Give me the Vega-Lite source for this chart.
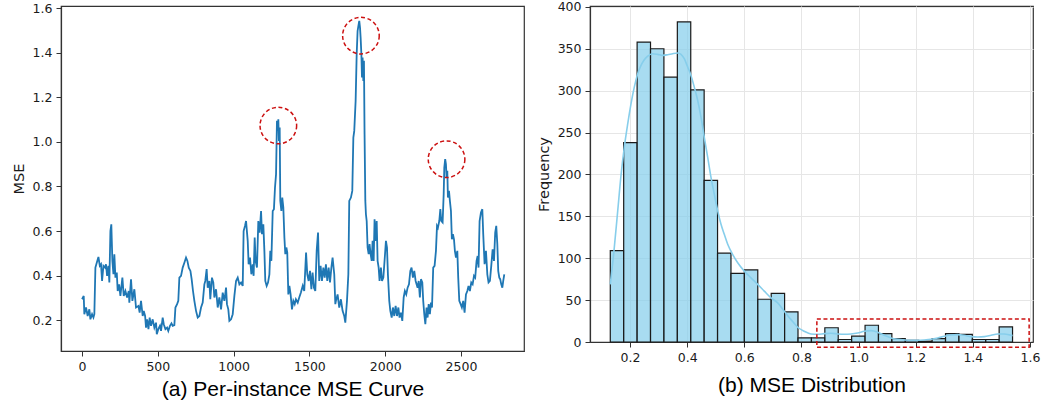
{
  "$schema": "https://vega.github.io/schema/vega-lite/v6.json",
  "padding": {"left": 11, "top": 0, "right": 0, "bottom": 0},
  "bounds": "flush",
  "spacing": 66,
  "config": {
    "view": {"stroke": "#333333", "strokeWidth": 1.2},
    "axis": {
      "labelFont": "DejaVu Sans", "labelFontSize": 12.5, "labelColor": "#1a1a1a",
      "titleFont": "DejaVu Sans", "titleFontSize": 14.5, "titleFontWeight": "normal", "titleColor": "#1a1a1a",
      "domainColor": "#333333", "domainWidth": 1.2, "tickColor": "#333333", "tickSize": 5, "tickWidth": 1,
      "labelPadding": 4, "grid": false
    }
  },
  "datasets": {
    "line": [
      {"instance":0,"mse":0.294},{"instance":11,"mse":0.309},{"instance":15,"mse":0.227},{"instance":26,"mse":0.257},{"instance":37,"mse":0.219},{"instance":48,"mse":0.249},{"instance":55,"mse":0.204},{"instance":66,"mse":0.227},{"instance":75,"mse":0.212},{"instance":81,"mse":0.227},
      {"instance":88,"mse":0.436},{"instance":97,"mse":0.458},{"instance":108,"mse":0.484},{"instance":117,"mse":0.444},{"instance":125,"mse":0.451},{"instance":132,"mse":0.376},{"instance":141,"mse":0.444},{"instance":152,"mse":0.436},{"instance":158,"mse":0.451},{"instance":165,"mse":0.399},
      {"instance":174,"mse":0.444},{"instance":180,"mse":0.369},{"instance":187,"mse":0.600},{"instance":193,"mse":0.630},{"instance":200,"mse":0.466},{"instance":207,"mse":0.406},{"instance":213,"mse":0.496},{"instance":220,"mse":0.391},{"instance":229,"mse":0.414},{"instance":235,"mse":0.331},
      {"instance":244,"mse":0.361},{"instance":253,"mse":0.309},{"instance":266,"mse":0.391},{"instance":275,"mse":0.309},{"instance":286,"mse":0.331},{"instance":297,"mse":0.302},{"instance":308,"mse":0.331},{"instance":312,"mse":0.279},{"instance":323,"mse":0.384},{"instance":332,"mse":0.287},
      {"instance":345,"mse":0.339},{"instance":356,"mse":0.257},{"instance":372,"mse":0.264},{"instance":380,"mse":0.234},{"instance":389,"mse":0.287},{"instance":400,"mse":0.219},{"instance":407,"mse":0.242},{"instance":416,"mse":0.219},{"instance":422,"mse":0.167},{"instance":429,"mse":0.204},
      {"instance":438,"mse":0.160},{"instance":446,"mse":0.212},{"instance":455,"mse":0.175},{"instance":466,"mse":0.204},{"instance":477,"mse":0.167},{"instance":488,"mse":0.189},{"instance":493,"mse":0.137},{"instance":503,"mse":0.160},{"instance":514,"mse":0.175},{"instance":521,"mse":0.152},
      {"instance":532,"mse":0.212},{"instance":539,"mse":0.182},{"instance":550,"mse":0.160},{"instance":561,"mse":0.167},{"instance":569,"mse":0.152},{"instance":580,"mse":0.175},{"instance":590,"mse":0.186},{"instance":598,"mse":0.175},{"instance":609,"mse":0.178},{"instance":616,"mse":0.257},
      {"instance":627,"mse":0.272},{"instance":635,"mse":0.287},{"instance":642,"mse":0.391},{"instance":653,"mse":0.399},{"instance":664,"mse":0.436},{"instance":675,"mse":0.458},{"instance":686,"mse":0.481},{"instance":695,"mse":0.466},{"instance":704,"mse":0.436},{"instance":715,"mse":0.421},
      {"instance":723,"mse":0.384},{"instance":732,"mse":0.331},{"instance":741,"mse":0.287},{"instance":752,"mse":0.242},{"instance":763,"mse":0.212},{"instance":774,"mse":0.219},{"instance":785,"mse":0.257},{"instance":796,"mse":0.279},{"instance":807,"mse":0.361},{"instance":813,"mse":0.376},
      {"instance":822,"mse":0.429},{"instance":829,"mse":0.346},{"instance":840,"mse":0.376},{"instance":846,"mse":0.294},{"instance":857,"mse":0.391},{"instance":866,"mse":0.369},{"instance":873,"mse":0.302},{"instance":884,"mse":0.339},{"instance":895,"mse":0.257},{"instance":906,"mse":0.302},
      {"instance":917,"mse":0.249},{"instance":928,"mse":0.324},{"instance":939,"mse":0.287},{"instance":950,"mse":0.346},{"instance":956,"mse":0.272},{"instance":965,"mse":0.249},{"instance":972,"mse":0.197},{"instance":983,"mse":0.204},{"instance":994,"mse":0.227},{"instance":1005,"mse":0.309},
      {"instance":1016,"mse":0.376},{"instance":1027,"mse":0.391},{"instance":1038,"mse":0.361},{"instance":1049,"mse":0.369},{"instance":1060,"mse":0.354},{"instance":1066,"mse":0.600},{"instance":1075,"mse":0.623},
      {"instance":1082,"mse":0.645},{"instance":1093,"mse":0.556},{"instance":1099,"mse":0.451},{"instance":1108,"mse":0.481},{"instance":1117,"mse":0.406},{"instance":1126,"mse":0.451},{"instance":1132,"mse":0.399},{"instance":1139,"mse":0.571},{"instance":1145,"mse":0.466},{"instance":1154,"mse":0.436},
      {"instance":1163,"mse":0.645},{"instance":1172,"mse":0.593},{"instance":1181,"mse":0.690},{"instance":1187,"mse":0.586},{"instance":1196,"mse":0.630},{"instance":1203,"mse":0.511},{"instance":1209,"mse":0.376},{"instance":1218,"mse":0.354},{"instance":1227,"mse":0.369},{"instance":1236,"mse":0.406},
      {"instance":1242,"mse":0.511},{"instance":1249,"mse":0.466},{"instance":1258,"mse":0.690},{"instance":1266,"mse":0.698},{"instance":1273,"mse":0.795},{"instance":1280,"mse":0.855},{"instance":1286,"mse":1.094},{"instance":1291,"mse":1.049},{"instance":1295,"mse":1.101},{"instance":1299,"mse":1.004},
      {"instance":1304,"mse":1.064},{"instance":1308,"mse":0.735},{"instance":1315,"mse":0.690},{"instance":1321,"mse":0.750},{"instance":1328,"mse":0.705},{"instance":1335,"mse":0.571},{"instance":1341,"mse":0.496},{"instance":1348,"mse":0.526},{"instance":1354,"mse":0.503},{"instance":1361,"mse":0.316},
      {"instance":1368,"mse":0.354},{"instance":1376,"mse":0.316},{"instance":1385,"mse":0.249},{"instance":1394,"mse":0.287},{"instance":1403,"mse":0.272},{"instance":1411,"mse":0.294},{"instance":1423,"mse":0.279},{"instance":1433,"mse":0.302},{"instance":1444,"mse":0.324},{"instance":1456,"mse":0.354},
      {"instance":1466,"mse":0.331},{"instance":1478,"mse":0.503},{"instance":1486,"mse":0.406},{"instance":1495,"mse":0.376},{"instance":1504,"mse":0.421},{"instance":1513,"mse":0.339},{"instance":1521,"mse":0.414},{"instance":1530,"mse":0.346},{"instance":1539,"mse":0.331},{"instance":1548,"mse":0.511},
      {"instance":1557,"mse":0.593},{"instance":1565,"mse":0.376},{"instance":1574,"mse":0.444},{"instance":1583,"mse":0.376},{"instance":1592,"mse":0.436},{"instance":1601,"mse":0.391},{"instance":1609,"mse":0.451},{"instance":1618,"mse":0.376},{"instance":1627,"mse":0.436},{"instance":1636,"mse":0.369},
      {"instance":1645,"mse":0.436},{"instance":1653,"mse":0.481},{"instance":1664,"mse":0.406},{"instance":1671,"mse":0.272},
      {"instance":1675,"mse":0.287},{"instance":1686,"mse":0.316},{"instance":1697,"mse":0.257},{"instance":1708,"mse":0.294},{"instance":1719,"mse":0.242},{"instance":1730,"mse":0.219},{"instance":1737,"mse":0.189},{"instance":1748,"mse":0.287},{"instance":1757,"mse":0.406},{"instance":1763,"mse":0.735},
      {"instance":1774,"mse":0.750},{"instance":1783,"mse":0.780},{"instance":1790,"mse":1.019},{"instance":1796,"mse":1.049},{"instance":1805,"mse":1.183},{"instance":1812,"mse":1.393},{"instance":1818,"mse":1.497},{"instance":1825,"mse":1.527},{"instance":1829,"mse":1.542},{"instance":1834,"mse":1.512},
      {"instance":1838,"mse":1.467},{"instance":1843,"mse":1.393},{"instance":1847,"mse":1.288},{"instance":1851,"mse":1.378},{"instance":1856,"mse":1.273},{"instance":1860,"mse":1.363},{"instance":1864,"mse":1.034},{"instance":1869,"mse":0.735},{"instance":1873,"mse":0.675},{"instance":1878,"mse":0.645},
      {"instance":1884,"mse":0.526},{"instance":1891,"mse":0.496},{"instance":1897,"mse":0.541},{"instance":1904,"mse":0.496},{"instance":1911,"mse":0.466},{"instance":1917,"mse":0.556},{"instance":1924,"mse":0.466},{"instance":1930,"mse":0.653},{"instance":1937,"mse":0.556},{"instance":1944,"mse":0.645},
      {"instance":1950,"mse":0.466},{"instance":1957,"mse":0.436},{"instance":1963,"mse":0.376},{"instance":1972,"mse":0.436},{"instance":1979,"mse":0.376},{"instance":1988,"mse":0.391},{"instance":1999,"mse":0.496},{"instance":2005,"mse":0.556},{"instance":2012,"mse":0.526},{"instance":2018,"mse":0.406},
      {"instance":2027,"mse":0.287},{"instance":2034,"mse":0.242},{"instance":2043,"mse":0.212},{"instance":2051,"mse":0.257},{"instance":2060,"mse":0.219},{"instance":2069,"mse":0.264},{"instance":2078,"mse":0.219},{"instance":2087,"mse":0.257},{"instance":2095,"mse":0.212},{"instance":2104,"mse":0.234},
      {"instance":2113,"mse":0.197},{"instance":2122,"mse":0.302},{"instance":2130,"mse":0.331},{"instance":2139,"mse":0.316},{"instance":2148,"mse":0.346},{"instance":2157,"mse":0.361},{"instance":2166,"mse":0.421},{"instance":2174,"mse":0.436},{"instance":2183,"mse":0.391},{"instance":2192,"mse":0.421},
      {"instance":2201,"mse":0.376},{"instance":2214,"mse":0.346},{"instance":2221,"mse":0.376},{"instance":2229,"mse":0.302},{"instance":2236,"mse":0.384},{"instance":2245,"mse":0.369},{"instance":2251,"mse":0.287},{"instance":2258,"mse":0.227},{"instance":2265,"mse":0.182},{"instance":2273,"mse":0.257},
      {"instance":2280,"mse":0.212},{"instance":2287,"mse":0.272},{"instance":2295,"mse":0.227},{"instance":2302,"mse":0.279},{"instance":2309,"mse":0.257},{"instance":2317,"mse":0.436},{"instance":2326,"mse":0.444},{"instance":2335,"mse":0.511},{"instance":2342,"mse":0.623},{"instance":2348,"mse":0.615},
      {"instance":2357,"mse":0.645},{"instance":2364,"mse":0.698},{"instance":2370,"mse":0.645},{"instance":2379,"mse":0.638},{"instance":2386,"mse":0.765},{"instance":2390,"mse":0.884},{"instance":2396,"mse":0.922},{"instance":2401,"mse":0.899},{"instance":2405,"mse":0.840},{"instance":2410,"mse":0.870},
      {"instance":2414,"mse":0.750},{"instance":2421,"mse":0.780},{"instance":2427,"mse":0.735},{"instance":2434,"mse":0.690},{"instance":2440,"mse":0.563},{"instance":2447,"mse":0.586},{"instance":2454,"mse":0.563},{"instance":2460,"mse":0.511},{"instance":2467,"mse":0.481},{"instance":2476,"mse":0.511},
      {"instance":2482,"mse":0.391},{"instance":2489,"mse":0.287},{"instance":2498,"mse":0.272},{"instance":2506,"mse":0.257},{"instance":2515,"mse":0.287},{"instance":2524,"mse":0.234},{"instance":2533,"mse":0.316},{"instance":2542,"mse":0.331},{"instance":2550,"mse":0.354},{"instance":2559,"mse":0.331},
      {"instance":2568,"mse":0.369},{"instance":2577,"mse":0.361},{"instance":2586,"mse":0.399},{"instance":2594,"mse":0.391},{"instance":2603,"mse":0.466},{"instance":2610,"mse":0.488},{"instance":2616,"mse":0.436},{"instance":2623,"mse":0.645},{"instance":2632,"mse":0.683},{"instance":2641,"mse":0.698},
      {"instance":2647,"mse":0.586},{"instance":2656,"mse":0.451},{"instance":2665,"mse":0.511},{"instance":2674,"mse":0.406},{"instance":2682,"mse":0.369},{"instance":2691,"mse":0.376},{"instance":2700,"mse":0.444},{"instance":2709,"mse":0.518},{"instance":2718,"mse":0.466},{"instance":2726,"mse":0.593},
      {"instance":2733,"mse":0.623},{"instance":2740,"mse":0.541},{"instance":2746,"mse":0.421},{"instance":2753,"mse":0.391},{"instance":2759,"mse":0.384},{"instance":2766,"mse":0.361},{"instance":2773,"mse":0.346},{"instance":2779,"mse":0.376},{"instance":2786,"mse":0.406}
    ],
    "peaks": [
      {"instance":1295,"mse":1.073},{"instance":1840,"mse":1.476},{"instance":2405,"mse":0.922}
    ],
    "hist": [
      {"bin_start":0.1310,"bin_end":0.1779,"count":109},{"bin_start":0.1779,"bin_end":0.2249,"count":238},{"bin_start":0.2249,"bin_end":0.2718,"count":358},{"bin_start":0.2718,"bin_end":0.3187,"count":350},{"bin_start":0.3187,"bin_end":0.3657,"count":316},
      {"bin_start":0.3657,"bin_end":0.4126,"count":382},{"bin_start":0.4126,"bin_end":0.4595,"count":301},{"bin_start":0.4595,"bin_end":0.5064,"count":193},{"bin_start":0.5064,"bin_end":0.5534,"count":106},{"bin_start":0.5534,"bin_end":0.6003,"count":82},
      {"bin_start":0.6003,"bin_end":0.6472,"count":86},{"bin_start":0.6472,"bin_end":0.6942,"count":51},{"bin_start":0.6942,"bin_end":0.7411,"count":58},{"bin_start":0.7411,"bin_end":0.7880,"count":36},{"bin_start":0.7880,"bin_end":0.8350,"count":5},
      {"bin_start":0.8350,"bin_end":0.8819,"count":5},{"bin_start":0.8819,"bin_end":0.9288,"count":17},{"bin_start":0.9288,"bin_end":0.9757,"count":3},{"bin_start":0.9757,"bin_end":1.0227,"count":7},{"bin_start":1.0227,"bin_end":1.0696,"count":20},
      {"bin_start":1.0696,"bin_end":1.1165,"count":10},{"bin_start":1.1165,"bin_end":1.1635,"count":4},{"bin_start":1.1635,"bin_end":1.2104,"count":2},{"bin_start":1.2104,"bin_end":1.2573,"count":1},{"bin_start":1.2573,"bin_end":1.3043,"count":4},
      {"bin_start":1.3043,"bin_end":1.3512,"count":10},{"bin_start":1.3512,"bin_end":1.3981,"count":9},{"bin_start":1.3981,"bin_end":1.4450,"count":3},{"bin_start":1.4450,"bin_end":1.4920,"count":3},{"bin_start":1.4920,"bin_end":1.5389,"count":18}
    ],
    "kde": [
      {"x":0.131,"density":68.7},{"x":0.145,"density":112.6},{"x":0.157,"density":156.5},{"x":0.169,"density":200.4},{"x":0.180,"density":232.3},{"x":0.192,"density":260.3},{"x":0.2035,"density":284.2},{"x":0.215,"density":304.2},{"x":0.227,"density":320.2},{"x":0.2385,"density":330.1},
      {"x":0.250,"density":336.9},{"x":0.262,"density":341.3},{"x":0.279,"density":344.1},{"x":0.297,"density":343.3},{"x":0.314,"density":342.1},{"x":0.332,"density":342.9},{"x":0.349,"density":344.1},{"x":0.367,"density":344.9},{"x":0.3785,"density":343.3},{"x":0.390,"density":338.1},
      {"x":0.402,"density":328.1},{"x":0.4135,"density":318.2},{"x":0.425,"density":304.2},{"x":0.437,"density":288.2},{"x":0.4485,"density":268.3},{"x":0.460,"density":244.3},{"x":0.472,"density":220.4},{"x":0.4835,"density":196.4},{"x":0.495,"density":176.4},{"x":0.507,"density":156.5},
      {"x":0.5185,"density":140.5},{"x":0.530,"density":128.5},{"x":0.542,"density":116.6},{"x":0.559,"density":104.6},{"x":0.577,"density":94.6},{"x":0.600,"density":84.6},{"x":0.6235,"density":76.6},{"x":0.647,"density":68.7},{"x":0.670,"density":60.7},{"x":0.6935,"density":52.7},
      {"x":0.717,"density":46.7},{"x":0.740,"density":36.7},{"x":0.7635,"density":26.7},{"x":0.787,"density":17.6},{"x":0.810,"density":12.8},{"x":0.8335,"density":9.6},{"x":0.857,"density":9.2},{"x":0.880,"density":10.0},{"x":0.9035,"density":10.4},{"x":0.927,"density":9.6},
      {"x":0.950,"density":9.2},{"x":0.9735,"density":9.6},{"x":0.997,"density":10.8},{"x":1.020,"density":12.8},{"x":1.0435,"density":13.6},{"x":1.067,"density":11.6},{"x":1.090,"density":8.0},{"x":1.1135,"density":4.8},{"x":1.137,"density":3.2},{"x":1.160,"density":2.4},
      {"x":1.1835,"density":2.0},{"x":1.207,"density":2.0},{"x":1.230,"density":2.4},{"x":1.2535,"density":3.2},{"x":1.277,"density":4.8},{"x":1.300,"density":6.8},{"x":1.3235,"density":8.4},{"x":1.347,"density":8.8},{"x":1.370,"density":8.0},{"x":1.3935,"density":6.4},
      {"x":1.417,"density":6.0},{"x":1.4405,"density":6.4},{"x":1.464,"density":8.0},{"x":1.487,"density":9.6},{"x":1.510,"density":9.6},{"x":1.539,"density":7.6}
    ],
    "box": [
      {"x0":0.854,"x1":1.597,"y0":-6.4,"y1":27.5}
    ]
  },
  "hconcat": [
    {
      "width": 463,
      "height": 345,
      "layer": [
        {
          "data": {"name": "line"},
          "mark": {"type": "line", "color": "#1f77b4", "strokeWidth": 1.8},
          "encoding": {
            "x": {"field": "instance", "type": "quantitative",
              "scale": {"domain": [-139, 2916], "nice": false, "zero": false},
              "axis": {"values": [0, 500, 1000, 1500, 2000, 2500], "format": "d", "title": "(a) Per-instance MSE Curve",
                "titleFont": "Liberation Sans", "titleFontSize": 21, "titleColor": "#000000", "titlePadding": 6}},
            "y": {"field": "mse", "type": "quantitative",
              "scale": {"domain": [0.062, 1.609], "nice": false, "zero": false},
              "axis": {"values": [0.2, 0.4, 0.6, 0.8, 1.0, 1.2, 1.4, 1.6], "format": ".1f", "title": "MSE", "titlePadding": 5.5}}
          }
        },
        {
          "data": {"name": "peaks"},
          "mark": {"type": "point", "shape": "circle", "size": 1340, "filled": false, "stroke": "#cc1111", "strokeWidth": 1.5, "strokeDash": [4, 2.6], "opacity": 1},
          "encoding": {
            "x": {"field": "instance", "type": "quantitative", "scale": {"domain": [-139, 2916], "nice": false, "zero": false}},
            "y": {"field": "mse", "type": "quantitative", "scale": {"domain": [0.062, 1.609], "nice": false, "zero": false}}
          }
        }
      ]
    },
    {
      "width": 443,
      "height": 336,
      "layer": [
        {
          "data": {"name": "hist"},
          "mark": {"type": "rect", "fill": "#87ceeb", "fillOpacity": 0.72, "stroke": "#1a1a1a", "strokeWidth": 1.2},
          "encoding": {
            "x": {"field": "bin_start", "type": "quantitative",
              "scale": {"domain": [0.06, 1.6105], "nice": false, "zero": false},
              "axis": {"values": [0.2, 0.4, 0.6, 0.8, 1.0, 1.2, 1.4, 1.6], "format": ".1f", "title": "(b) MSE Distribution",
                "titleFont": "Liberation Sans", "titleFontSize": 21, "titleColor": "#000000", "titlePadding": 11,
                "grid": true, "gridColor": "#e6e6e6", "gridWidth": 1}},
            "x2": {"field": "bin_end"},
            "y": {"field": "count", "type": "quantitative",
              "scale": {"domain": [0, 401], "nice": false, "zero": false},
              "axis": {"values": [0, 50, 100, 150, 200, 250, 300, 350, 400], "title": "Frequency", "titlePadding": 5.5,
                "grid": true, "gridColor": "#e6e6e6", "gridWidth": 1}},
            "y2": {"datum": 0}
          }
        },
        {
          "data": {"name": "kde"},
          "mark": {"type": "line", "color": "#87ceeb", "strokeWidth": 1.6, "interpolate": "monotone"},
          "encoding": {
            "x": {"field": "x", "type": "quantitative", "scale": {"domain": [0.06, 1.6105], "nice": false, "zero": false}},
            "y": {"field": "density", "type": "quantitative", "scale": {"domain": [0, 401], "nice": false, "zero": false}}
          }
        },
        {
          "data": {"name": "box"},
          "mark": {"type": "rect", "fillOpacity": 0, "fill": "#ffffff", "stroke": "#cc1111", "strokeWidth": 1.5, "strokeDash": [4, 2.6]},
          "encoding": {
            "x": {"field": "x0", "type": "quantitative", "scale": {"domain": [0.06, 1.6105], "nice": false, "zero": false}},
            "x2": {"field": "x1"},
            "y": {"field": "y0", "type": "quantitative", "scale": {"domain": [0, 401], "nice": false, "zero": false}},
            "y2": {"field": "y1"}
          }
        }
      ]
    }
  ]
}
